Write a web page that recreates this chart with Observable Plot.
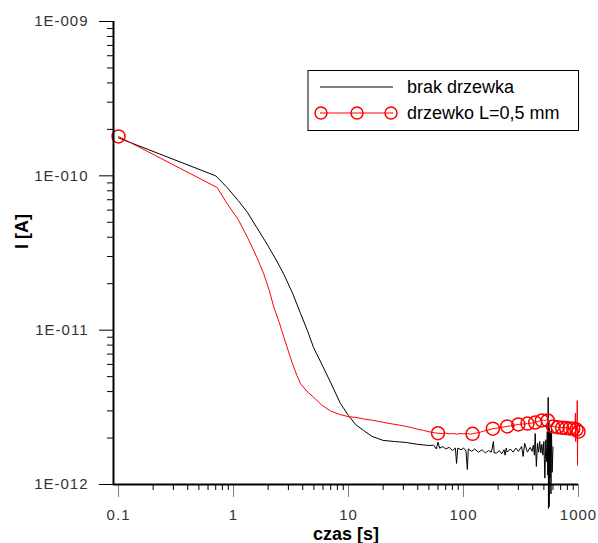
<!DOCTYPE html>
<html>
<head>
<meta charset="utf-8">
<script src="https://cdn.jsdelivr.net/npm/d3@7"></script>
<script src="https://cdn.jsdelivr.net/npm/@observablehq/plot@0.6"></script>
<style>
  html, body { margin: 0; padding: 0; background: #ffffff; }
  #wrap { position: relative; width: 598px; height: 543px; font-family: "Liberation Sans", Arial, sans-serif; }
  #wrap svg [aria-label$="tick label"] text { letter-spacing: 1px; }
  #legend { position: absolute; left: 307px; top: 70px; width: 269px; height: 59px;
    border: 1px solid #000; border-left: 2px solid #808080; background: #fff; }
  .row { position: absolute; left: 0; height: 20px; display: flex; align-items: center; }
  .row span { position: absolute; left: 98px; font-size: 18px; color: #000; white-space: nowrap; }
</style>
</head>
<body>
<div id="wrap"></div>
<script>
// ---- data (current in pA = 1e-12 A, time in s) ----
const seriesNames = ["brak drzewka", "drzewko L=0,5 mm"];
const seriesColors = ["#000000", "#ff0000"];

const blackT = [0.1, 0.7, 0.88, 1.1, 1.32, 1.6, 1.96, 2.35, 2.74, 3.3, 3.83, 4.4, 4.97, 6.0, 6.97, 8.5, 10, 11.5, 13.5, 16, 20, 25, 32, 40, 50,
  55, 58, 60, 62, 66, 70, 75, 80, 85, 87, 89, 95, 100, 105, 108, 110, 118, 125, 135, 145, 155, 165, 175, 182, 185, 195, 205, 215, 225,
  230, 235, 240, 255, 270, 285, 300, 320, 330, 340, 360, 380, 395, 405, 414, 420, 430, 440, 450, 460, 470, 480, 490, 500, 505, 510, 520, 530, 535,
  541, 545, 548, 552, 556, 560, 565, 571, 576, 582, 590, 600];
const blackI = [176, 100, 84, 69, 58, 46, 36, 28.5, 23, 17, 12.8, 9.9, 7.7, 5.8, 4.6, 3.35, 2.8, 2.45, 2.24, 2.05, 1.93, 1.9, 1.87, 1.82, 1.79,
  1.80, 1.70, 1.88, 1.72, 1.76, 1.70, 1.74, 1.66, 1.72, 1.37, 1.72, 1.68, 1.72, 1.66, 1.25, 1.70, 1.64, 1.70, 1.62, 1.68, 1.60, 1.66, 1.62, 1.90, 1.60, 1.60, 1.66, 1.58, 1.68,
  1.55, 1.72, 1.62, 1.70, 1.62, 1.72, 1.64, 1.76, 1.52, 1.85, 1.62, 1.74, 1.64, 1.80, 1.55, 2.14, 1.31, 1.85, 1.62, 1.90, 1.60, 1.82, 1.55, 1.90, 1.45, 1.10, 1.95, 1.40, 2.20, 1.15,
  3.67, 0.70, 2.60, 0.72, 2.30, 1.10, 2.20, 0.87, 2.30, 1.20, 1.75, 1.70];

const redT = [0.1, 0.72, 0.88, 1.1, 1.32, 1.6, 1.83, 2.05, 2.24, 2.5, 2.74, 3.0, 3.26, 3.55, 3.83, 4.4, 4.98, 5.9, 6.97, 8.3, 10, 11.6, 13.5, 16.5, 20, 23, 26.5, 30, 35, 40, 45, 51, 56,
  60, 65, 70, 75, 80, 88, 95, 100, 108, 115, 120, 130, 140, 150, 160, 170, 180, 195, 210, 225, 240, 255, 270, 285, 300, 315, 330, 345, 360, 375, 390, 405,
  420, 435, 450, 465, 480, 495, 510, 525, 540, 555, 570, 585, 600, 615, 630, 645, 660, 675, 690, 705, 720, 735, 750, 765, 780, 795, 810, 825, 840, 855,
  870, 885, 900, 915, 930, 940, 945, 950, 960, 970, 975, 980, 985, 990, 1000];
const redI = [180, 84, 66, 52, 40, 29.5, 23.2, 18, 14.1, 11.2, 9.0, 7.3, 6.05, 5.1, 4.49, 3.98, 3.67, 3.25, 3.0, 2.85, 2.75, 2.72, 2.66, 2.60, 2.53, 2.48, 2.44, 2.40, 2.34, 2.28, 2.24, 2.19, 2.16,
  2.15, 2.14, 2.15, 2.13, 2.14, 2.12, 2.14, 2.13, 2.14, 2.12, 2.13, 2.16, 2.18, 2.22, 2.24, 2.27, 2.30, 2.32, 2.34, 2.36, 2.38, 2.40, 2.42, 2.43, 2.45, 2.46, 2.47, 2.47, 2.48, 2.49, 2.50, 2.51,
  2.52, 2.55, 2.57, 2.60, 2.60, 2.62, 2.60, 2.63, 2.60, 2.50, 2.42, 2.40, 2.38, 2.37, 2.36, 2.36, 2.35, 2.35, 2.34, 2.35, 2.33, 2.34, 2.33, 2.34, 2.32, 2.33, 2.32, 2.33, 2.31, 2.32,
  2.30, 2.31, 2.30, 2.29, 2.30, 2.90, 1.90, 2.28, 2.27, 2.25, 3.50, 1.33, 2.30, 2.20, 2.20];
const redMarkT = [0.1, 60, 120, 180, 240, 300, 360, 420, 480, 540, 600, 660, 720, 780, 840, 900, 960, 1000];

const xDomain = [0.0904, 1000];
const yDomain = [1e-12, 1e-9];
const xMajor = [0.1, 1, 10, 100, 1000];
const xMajorLabels = ["0.1", "1", "10", "100", "1000"];
const xMinor = [0.2,0.3,0.4,0.5,0.6,0.7,0.8,0.9, 2,3,4,5,6,7,8,9, 20,30,40,50,60,70,80,90, 200,300,400,500,600,700,800,900];
const yMajor = [1e-12, 1e-11, 1e-10, 1e-9];
const yMajorLabels = ["1E-012", "1E-011", "1E-010", "1E-009"];
const yMinorMant = [2,3,4,5,6,7,8,9];
const yMinorDec = [1e-12, 1e-11, 1e-10];
const xTitle = "czas [s]";
const yTitle = "I [A]";

// ---- build tables ----
const pA = 1e-12;
const black = blackT.map((t, i) => ({t, I: blackI[i] * pA}));
const red = redT.map((t, i) => ({t, I: redI[i] * pA}));
const redMarks = redMarkT.map(t => ({t, I: redI[redT.indexOf(t)] * pA}));
const yMinor = yMinorDec.flatMap(d => yMinorMant.map(m => m * d));

const chart = Plot.plot({
  width: 598, height: 543,
  marginLeft: 113, marginRight: 20, marginTop: 21, marginBottom: 59,
  x: {type: "log", domain: xDomain},
  y: {type: "log", domain: yDomain},
  style: {fontFamily: "'Liberation Sans', Arial, sans-serif", background: "#ffffff", overflow: "visible", fontSize: "15px"},
  marks: [
    Plot.axisX({ticks: xMinor, tickSize: 6, tickFormat: () => "", label: null, stroke: "#000"}),
    Plot.axisX({ticks: xMajor, tickSize: 13, tickPadding: 12, label: null, stroke: "#808080", fill: "#333",
      tickFormat: d => xMajorLabels[xMajor.indexOf(d)], fontSize: 15}),
    Plot.axisY({ticks: yMinor, tickSize: 6, tickFormat: () => "", label: null, stroke: "#000"}),
    Plot.axisY({ticks: yMajor, tickSize: 14, tickPadding: 11, label: null, stroke: "#000", fill: "#333",
      tickFormat: d => yMajorLabels[yMajor.indexOf(d)], fontSize: 15}),
    Plot.line(black, {x: "t", y: "I", stroke: seriesColors[0], strokeWidth: 1}),
    Plot.line(red, {x: "t", y: "I", stroke: seriesColors[1], strokeWidth: 1}),
    Plot.dot(redMarks, {x: "t", y: "I", r: 6.5, stroke: seriesColors[1], strokeWidth: 1.5, fill: "none"}),
    Plot.ruleY([yDomain[0]], {stroke: "#000", strokeWidth: 2}),
    Plot.ruleX([xDomain[0]], {stroke: "#000", strokeWidth: 2}),
    Plot.text([xTitle], {text: d => d, frameAnchor: "bottom", lineAnchor: "middle", textAnchor: "middle", dy: 50, fontWeight: "bold", fontSize: 18, fill: "#000"}),
    Plot.text([yTitle], {text: d => d, frameAnchor: "left", lineAnchor: "middle", textAnchor: "start", rotate: -90, dx: -91, dy: -4, fontWeight: "bold", fontSize: 18, fill: "#000"})
  ]
});
const wrap = document.getElementById("wrap");
wrap.appendChild(chart);

// ---- legend ----
const legend = document.createElement("div");
legend.id = "legend";
seriesNames.forEach((name, i) => {
  const row = document.createElement("div");
  row.className = "row";
  row.style.top = (i === 0 ? 6 : 32) + "px";
  row.style.width = "100%";
  const ns = "http://www.w3.org/2000/svg";
  const s = document.createElementNS(ns, "svg");
  s.setAttribute("width", "96"); s.setAttribute("height", "20");
  s.style.position = "absolute"; s.style.left = "0"; s.style.top = "0";
  const ln = document.createElementNS(ns, "line");
  ln.setAttribute("x1", 11); ln.setAttribute("x2", 84); ln.setAttribute("y1", 10); ln.setAttribute("y2", 10);
  ln.setAttribute("stroke", seriesColors[i]); ln.setAttribute("stroke-width", 1);
  s.appendChild(ln);
  if (i === 1) {
    [12, 48, 82].forEach(cx => {
      const c = document.createElementNS(ns, "circle");
      c.setAttribute("cx", cx); c.setAttribute("cy", 10); c.setAttribute("r", 6);
      c.setAttribute("fill", "none"); c.setAttribute("stroke", seriesColors[i]); c.setAttribute("stroke-width", 1.5);
      s.appendChild(c);
    });
  }
  row.appendChild(s);
  const sp = document.createElement("span");
  sp.textContent = name;
  row.appendChild(sp);
  legend.appendChild(row);
});
wrap.appendChild(legend);
</script>
</body>
</html>
